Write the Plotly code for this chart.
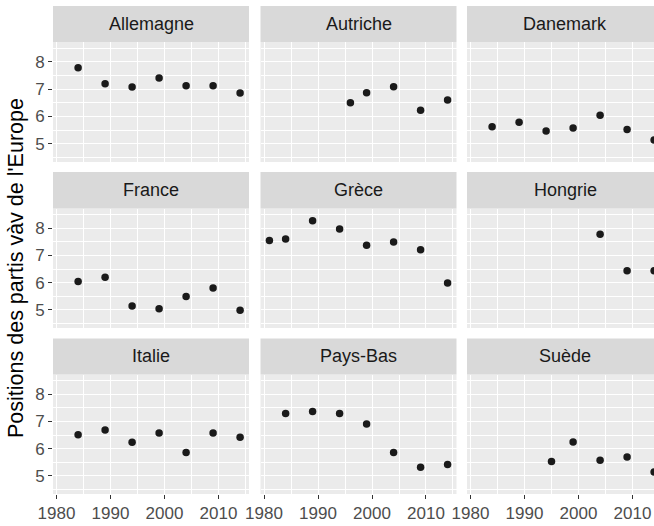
import plotly.graph_objects as go
from plotly.subplots import make_subplots

W, H = 654, 526

countries = ["Allemagne", "Autriche", "Danemark", "France", "Grèce", "Hongrie",
             "Italie", "Pays-Bas", "Suède"]

years_allemagne = [1984, 1989, 1994, 1999, 2004, 2009, 2014]
vals_allemagne = [7.78, 7.20, 7.08, 7.41, 7.12, 7.12, 6.86]

years_autriche = [1996, 1999, 2004, 2009, 2014]
vals_autriche = [6.50, 6.87, 7.09, 6.23, 6.60]

years_danemark = [1984, 1989, 1994, 1999, 2004, 2009, 2014]
vals_danemark = [5.63, 5.79, 5.47, 5.58, 6.05, 5.53, 5.14]

years_france = [1984, 1989, 1994, 1999, 2004, 2009, 2014]
vals_france = [6.04, 6.20, 5.15, 5.05, 5.49, 5.81, 4.99]

years_grece = [1981, 1984, 1989, 1994, 1999, 2004, 2009, 2014]
vals_grece = [7.55, 7.60, 8.27, 7.97, 7.37, 7.49, 7.21, 5.99]

years_hongrie = [2004, 2009, 2014]
vals_hongrie = [7.78, 6.44, 6.44]

years_italie = [1984, 1989, 1994, 1999, 2004, 2009, 2014]
vals_italie = [6.51, 6.69, 6.24, 6.58, 5.86, 6.58, 6.42]

years_paysbas = [1984, 1989, 1994, 1999, 2004, 2009, 2014]
vals_paysbas = [7.29, 7.36, 7.29, 6.91, 5.86, 5.32, 5.42]

years_suede = [1995, 1999, 2004, 2009, 2014]
vals_suede = [5.53, 6.25, 5.58, 5.70, 5.15]

x_tick_vals = [1980, 1990, 2000, 2010]
x_tick_text = ["1980", "1990", "2000", "2010"]
y_tick_vals = [5, 6, 7, 8]
y_tick_text = ["5", "6", "7", "8"]
y_title = "Positions des partis vàv de l'Europe"

series = [
    (years_allemagne, vals_allemagne), (years_autriche, vals_autriche),
    (years_danemark, vals_danemark), (years_france, vals_france),
    (years_grece, vals_grece), (years_hongrie, vals_hongrie),
    (years_italie, vals_italie), (years_paysbas, vals_paysbas),
    (years_suede, vals_suede),
]

# layout in pixels (the third column is cut by the right edge of the picture)
col_left = [53, 260.5, 467]
panel_w = 196
row_strip_top = [6, 172, 338.5]
row_top = [42, 208.5, 374.5]
row_bot = [162, 328, 494]
x_range = [1979.35, 2015.65]
y_range = [4.34, 8.72]


def px(v):
    return v / W


def py(v):
    return (H - v) / H


fig = make_subplots(rows=3, cols=3)

tick_font = dict(family="Liberation Sans, Arial", size=17, color="#4D4D4D")
per_px = (x_range[1] - x_range[0]) / panel_w

for i, (name, (xs, ys)) in enumerate(zip(countries, series)):
    r, c = i // 3, i % 3
    fig.add_trace(go.Scatter(x=xs, y=ys, mode="markers",
                             marker=dict(size=7.5, color="#1A1A1A"),
                             cliponaxis=True, showlegend=False, hoverinfo="skip"),
                  row=r + 1, col=c + 1)
    x0 = col_left[c]
    x1 = min(x0 + panel_w, W)
    xr = [x_range[0], x_range[0] + (x1 - x0) * per_px]
    fig.update_xaxes(domain=[px(x0), px(x1)], range=xr,
                     tickmode="array", tickvals=x_tick_vals, ticktext=x_tick_text,
                     showticklabels=(r == 2), ticks="outside" if r == 2 else "",
                     ticklen=4, tickwidth=1, tickcolor="#333333",
                     tickfont=tick_font, showgrid=True, gridcolor="white",
                     gridwidth=1.1, zeroline=False, showline=False, automargin=False,
                     minor=dict(tickmode="array", tickvals=[1985, 1995, 2005, 2015],
                                showgrid=True, gridcolor="white", gridwidth=0.5, ticks=""),
                     row=r + 1, col=c + 1)
    fig.update_yaxes(domain=[py(row_bot[r]), py(row_top[r])],
                     range=y_range, tickmode="array", tickvals=y_tick_vals,
                     ticktext=y_tick_text, showticklabels=(c == 0),
                     ticks="outside" if c == 0 else "",
                     ticklen=4, tickwidth=1, tickcolor="#333333",
                     tickfont=tick_font, showgrid=True, gridcolor="white",
                     gridwidth=1.1, zeroline=False, showline=False, automargin=False,
                     minor=dict(tickmode="array", tickvals=[4.5, 5.5, 6.5, 7.5, 8.5],
                                showgrid=True, gridcolor="white", gridwidth=0.5, ticks=""),
                     row=r + 1, col=c + 1)
    # strip
    fig.add_shape(type="rect", xref="paper", yref="paper",
                  x0=px(x0), x1=px(x1),
                  y0=py(row_top[r]), y1=py(row_strip_top[r]),
                  fillcolor="#D9D9D9", line=dict(width=0), layer="below")
    fig.add_annotation(xref="paper", yref="paper",
                       x=px(x0 + panel_w / 2),
                       y=py((row_strip_top[r] + row_top[r]) / 2),
                       text=name, showarrow=False, xanchor="center", yanchor="middle",
                       font=dict(family="Liberation Sans, Arial", size=18, color="#1A1A1A"))

fig.add_annotation(xref="paper", yref="paper", x=px(16), y=py(268),
                   text=y_title, textangle=-90, showarrow=False,
                   xanchor="center", yanchor="middle",
                   font=dict(family="Liberation Sans, Arial", size=21.5, color="black"))

fig.update_layout(width=W, height=H, margin=dict(l=0, r=0, t=0, b=0),
                  paper_bgcolor="white", plot_bgcolor="#EBEBEB")

fig.write_html("out.html",
               config={"displayModeBar": False},
               post_script="document.body.style.margin='0';"
                           "document.body.style.overflow='hidden';")
